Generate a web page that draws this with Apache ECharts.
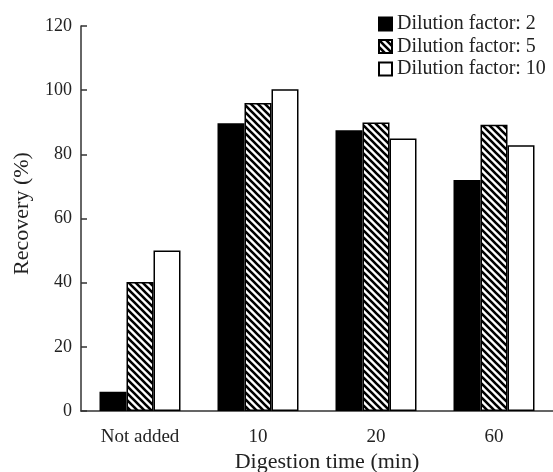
<!DOCTYPE html>
<html>
<head>
<meta charset="utf-8">
<script src="https://cdn.jsdelivr.net/npm/echarts@6/dist/echarts.min.js"></script>
<style>html,body{margin:0;padding:0;background:#fff}#c{width:553px;height:472px}</style>
</head>
<body>
<div id="c"></div>
<script>
const categories = ['Not added', '10', '20', '60'];
const seriesNames = ['Dilution factor: 2', 'Dilution factor: 5', 'Dilution factor: 10'];
const factor2 = [6, 89.7, 87.5, 72];
const factor5 = [40.2, 96, 89.9, 89.2];
const factor10 = [50, 100.3, 84.9, 82.8];
const yTicks = [0, 20, 40, 60, 80, 100, 120];

function hatch() {
  const s = 7;
  const c = document.createElement('canvas');
  c.width = s; c.height = s;
  const g = c.getContext('2d');
  g.fillStyle = '#fff'; g.fillRect(0, 0, s, s);
  g.strokeStyle = '#000'; g.lineWidth = 2.6;
  g.beginPath();
  for (let k = -1; k <= 1; k++) {
    g.moveTo(k * s - 1, -1); g.lineTo(k * s + s + 1, s + 1);
  }
  g.stroke();
  return c;
}

const font = 'Liberation Serif';
const chart = echarts.init(document.getElementById('c'), null, {renderer: 'canvas'});
chart.setOption({
  animation: false,
  backgroundColor: '#fff',
  textStyle: {fontFamily: font, color: '#222'},
  grid: {left: 81, right: 0, top: 26, bottom: 61, containLabel: false, outerBoundsMode: 'none'},
  legend: {
    orient: 'vertical', left: 373, top: 9,
    icon: 'rect',
    itemWidth: 13, itemHeight: 13, itemGap: 2.5,
    textStyle: {fontFamily: font, fontSize: 20, color: '#222', lineHeight: 20, padding: [0, 0, 0, 0]},
    data: seriesNames
  },
  xAxis: {
    type: 'category', data: categories,
    name: 'Digestion time (min)', nameLocation: 'middle', nameGap: 40, nameMoveOverlap: false,
    nameTextStyle: {fontFamily: font, fontSize: 22, color: '#222', padding: [0, 0, 0, 20]},
    axisLine: {lineStyle: {color: '#333', width: 1.5}},
    axisTick: {inside: true, length: 6, lineStyle: {color: '#333', width: 1.5}},
    axisLabel: {fontFamily: font, fontSize: 19, color: '#222', margin: 17}
  },
  yAxis: {
    type: 'value', min: yTicks[0], max: yTicks[yTicks.length - 1], interval: 20,
    name: 'Recovery (%)', nameLocation: 'middle', nameGap: 48, nameRotate: 90, nameMoveOverlap: false,
    nameTextStyle: {fontFamily: font, fontSize: 22, color: '#222', padding: [0, 0, 0, 10]},
    axisLine: {show: true, lineStyle: {color: '#333', width: 1.5}},
    axisTick: {show: true, inside: true, length: 6, lineStyle: {color: '#333', width: 1.5}},
    axisLabel: {fontFamily: font, fontSize: 18, color: '#222', margin: 9},
    splitLine: {show: false}
  },
  series: [
    {name: seriesNames[0], type: 'bar', data: factor2, barWidth: 27, barGap: '0%',
     itemStyle: {color: '#000', borderColor: '#000', borderWidth: 1.5}},
    {name: seriesNames[1], type: 'bar', data: factor5, barWidth: 27, barGap: '0%',
     itemStyle: {color: {image: hatch(), repeat: 'repeat'}, borderColor: '#000', borderWidth: 1.5}},
    {name: seriesNames[2], type: 'bar', data: factor10, barWidth: 27, barGap: '0%',
     itemStyle: {color: '#fff', borderColor: '#000', borderWidth: 1.5}}
  ]
});
</script>
</body>
</html>
